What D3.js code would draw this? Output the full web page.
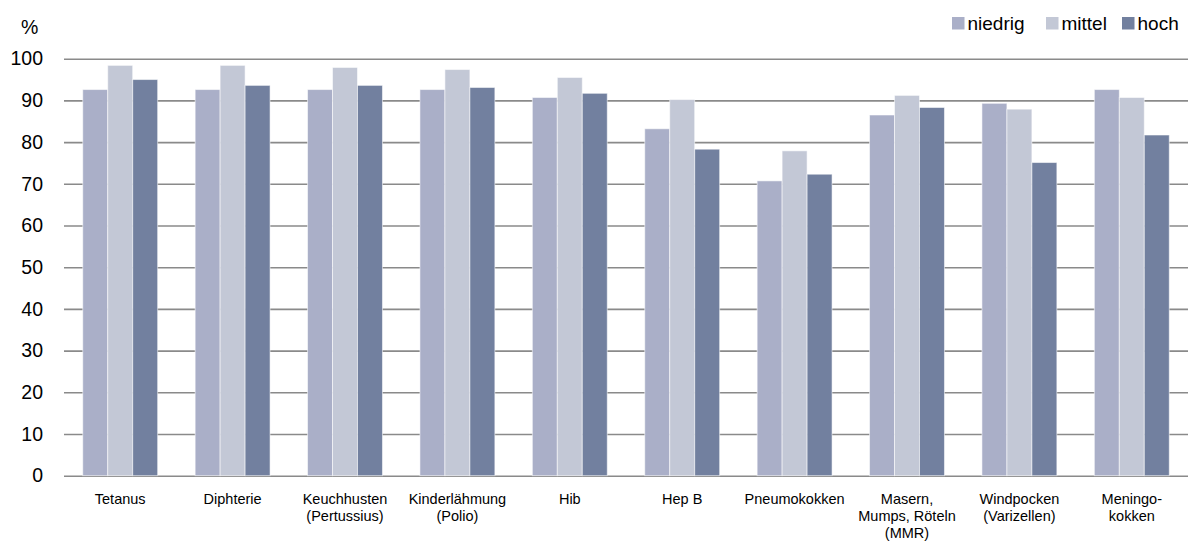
<!DOCTYPE html>
<html>
<head>
<meta charset="utf-8">
<script src="https://cdn.jsdelivr.net/npm/d3@7/dist/d3.min.js"></script>
<style>
  html, body { margin: 0; padding: 0; background: #fff; }
  svg { display: block; font-family: "Liberation Sans", Arial, sans-serif; }
</style>
</head>
<body>
<svg id="chart" width="1192" height="543"></svg>
<script>
// Impfquoten nach Sozialstatus (niedrig / mittel / hoch), Angaben in %
const categories = [
  ["Tetanus"],
  ["Diphterie"],
  ["Keuchhusten", "(Pertussius)"],
  ["Kinderlähmung", "(Polio)"],
  ["Hib"],
  ["Hep B"],
  ["Pneumokokken"],
  ["Masern,", "Mumps, Röteln", "(MMR)"],
  ["Windpocken", "(Varizellen)"],
  ["Meningo-", "kokken"]
];
const seriesNames = ["niedrig", "mittel", "hoch"];
const niedrig = [92.6, 92.6, 92.6, 92.6, 90.7, 83.2, 70.7, 86.5, 89.3, 92.6];
const mittel  = [98.4, 98.4, 97.9, 97.4, 95.5, 90.2, 77.9, 91.2, 87.9, 90.7];
const hoch    = [95.0, 93.6, 93.6, 93.1, 91.7, 78.3, 72.3, 88.3, 75.1, 81.7];
const yTicks  = [0, 10, 20, 30, 40, 50, 60, 70, 80, 90, 100];
const colors  = ["#aaafc8", "#c3c8d6", "#72809f"];

const seriesValues = [niedrig, mittel, hoch];
const svg = d3.select("#chart");

const plot = { left: 64, right: 1188, top: 58.7, bottom: 475.7 };

const x0 = d3.scaleBand()
  .domain(d3.range(categories.length))
  .range([plot.left, plot.right])
  .paddingInner(1 / 3)
  .paddingOuter(1 / 6);
const x1 = d3.scaleBand()
  .domain(d3.range(seriesNames.length))
  .range([0, x0.bandwidth()]);
const y = d3.scaleLinear().domain([0, 100]).range([plot.bottom, plot.top]);

// Horizontal gridlines and value labels
const yAxis = d3.axisLeft(y)
  .tickValues(yTicks)
  .tickSize(-(plot.right - plot.left))
  .tickPadding(20)
  .tickFormat(d3.format("d"));
const gy = svg.append("g")
  .attr("transform", `translate(${plot.left},0)`)
  .call(yAxis);
gy.select(".domain").remove();
gy.selectAll(".tick line")
  .attr("stroke", "#8a8a8a")
  .attr("stroke-width", 1.6);
gy.selectAll(".tick text")
  .attr("fill", "#000")
  .attr("font-size", 19.5)
  .attr("x", -21);

svg.append("text")
  .attr("x", 21).attr("y", 34)
  .attr("font-size", 19.5)
  .text("%");

// Grouped bars
const groups = svg.append("g")
  .selectAll("g")
  .data(categories.map((c, i) => i))
  .join("g")
  .attr("transform", i => `translate(${x0(i)},0)`);

groups.selectAll("rect")
  .data(i => seriesValues.map((s, k) => ({ k, v: s[i] })))
  .join("rect")
  .attr("x", d => x1(d.k))
  .attr("width", x1.bandwidth())
  .attr("y", d => y(d.v))
  .attr("height", d => y(0) - y(d.v))
  .attr("fill", d => colors[d.k])
  .attr("stroke", "rgba(255,255,255,0.55)")
  .attr("stroke-width", 1);

// Category labels below the axis
const labels = svg.append("g")
  .selectAll("text")
  .data(categories)
  .join("text")
  .attr("x", (d, i) => x0(i) + x0.bandwidth() / 2)
  .attr("y", 504)
  .attr("text-anchor", "middle")
  .attr("font-size", 14.5)
  .attr("fill", "#000");
labels.selectAll("tspan")
  .data(d => d)
  .join("tspan")
  .attr("x", function () { return this.parentNode.getAttribute("x"); })
  .attr("dy", (d, j) => j === 0 ? 0 : 17)
  .text(d => d);

// Legend
const legendX = [952, 1046, 1122];
const legend = svg.append("g")
  .selectAll("g")
  .data(seriesNames)
  .join("g")
  .attr("transform", (d, i) => `translate(${legendX[i]},17)`);
legend.append("rect")
  .attr("width", 12.5).attr("height", 12.5)
  .attr("fill", (d, i) => colors[i]);
legend.append("text")
  .attr("x", 15.5).attr("y", 12.8)
  .attr("font-size", 19)
  .attr("fill", "#000")
  .text(d => d);
</script>
</body>
</html>
